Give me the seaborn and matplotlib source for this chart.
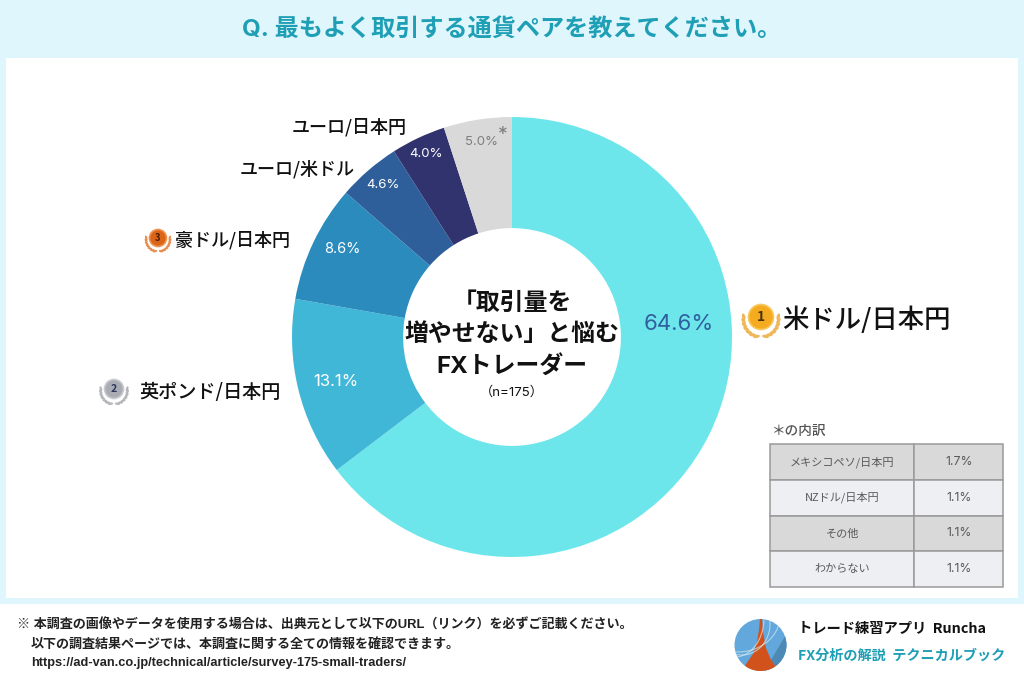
# survey donut chart - most traded currency pairs

import math
import matplotlib
matplotlib.use('Agg')
import matplotlib.pyplot as plt
from matplotlib.patches import Arc, Circle, Ellipse, Polygon, Rectangle
import seaborn as sns

# chart data
pairs = ['米ドル/日本円', '英ポンド/日本円', '豪ドル/日本円', 'ユーロ/米ドル', 'ユーロ/日本円', 'その他']
shares = [64.6, 13.1, 8.6, 4.6, 4.0, 5.0]
share_labels = ['64.6%', '13.1%', '8.6%', '4.6%', '4.0%', '5.0%']
pie_colors = ['#6ce6ea', '#40b7d7', '#2c8bbd', '#2e5f9b', '#31336f', '#d9d9d9']
label_colors = ['#2f5f9e', 'white', 'white', 'white', 'white', '#7f7f7f']

# breakdown of the * slice
detail_names = ['メキシコペソ/日本円', 'NZドル/日本円', 'その他', 'わからない']
detail_values = ['1.7%', '1.1%', '1.1%', '1.1%']

title_text = 'Q. 最もよく取引する通貨ペアを教えてください。'
center_lines = ['「取引量を', '増やせない」と悩む', 'FXトレーダー']
note_lines = ['※ 本調査の画像やデータを使用する場合は、出典元として以下のURL（リンク）を必ずご記載ください。',
              '以下の調査結果ページでは、本調査に関する全ての情報を確認できます。',
              'https://ad-van.co.jp/technical/article/survey-175-small-traders/']

sns.set_theme(style='white')
cjk = ['Noto Sans CJK JP', 'DejaVu Sans']
wide = ['Inter', 'Noto Sans CJK JP']
plt.rcParams['font.family'] = cjk

W, H = 1024, 683
fig = plt.figure(figsize=(W / 100, H / 100), dpi=100, facecolor='white')


def px_axes(x0, y0, x1, y1, **kw):
    # axes placed by pixel box, y counted from the top
    return fig.add_axes([x0 / W, 1 - y1 / H, (x1 - x0) / W, (y1 - y0) / H], **kw)


# background layer in pixel coordinates
bg = fig.add_axes([0, 0, 1, 1], zorder=0)
bg.set_xlim(0, W)
bg.set_ylim(H, 0)
bg.axis('off')
bg.add_patch(Rectangle((0, 0), W, 604, color='#dff7fc', lw=0))
bg.add_patch(Rectangle((6, 58), 1012, 540, color='white', lw=0))

# donut
ax = px_axes(292, 117, 732, 557, zorder=1)
ax.pie(shares, colors=pie_colors, startangle=90, counterclock=False,
       radius=1.0, wedgeprops={'width': 0.505, 'linewidth': 0})
ax.set_xlim(-1, 1)
ax.set_ylim(-1, 1)

# text and decoration layer
top = fig.add_axes([0, 0, 1, 1], zorder=2)
top.set_xlim(0, W)
top.set_ylim(H, 0)
top.axis('off')
top.patch.set_alpha(0)

top.text(512, 29, title_text, ha='center', va='center', fontsize=17.4,
         fontweight='bold', color='#1f9fb6', family=wide)

# percent labels on the ring
share_pos = [(679, 324), (336, 382), (342, 249), (383, 185), (426, 154), (481, 142)]
share_size = [16, 12, 10.5, 9.5, 9.5, 9.5]
for txt, (x, y), c, s in zip(share_labels, share_pos, label_colors, share_size):
    top.text(x, y, txt, ha='center', va='center', fontsize=s, color=c, family=wide)
top.text(503, 135, '*', ha='center', va='center', fontsize=14, color='#7f7f7f', family=wide)

# center of the donut
for line, y in zip(center_lines, [304, 335, 366]):
    top.text(512, y, line, ha='center', va='center', fontsize=17.2,
             fontweight='bold', color='#111111', family=wide)
top.text(512, 392, '（n=175）', ha='center', va='center', fontsize=9.5, color='#111111', family=wide)

# pair names
top.text(782, 320, pairs[0], ha='left', va='center', fontsize=19, fontweight='medium', color='#111111')
top.text(139, 392, pairs[1], ha='left', va='center', fontsize=13.8, fontweight='medium', color='#111111')
top.text(175, 240, pairs[2], ha='left', va='center', fontsize=13, fontweight='medium', color='#111111')
top.text(240, 169, pairs[3], ha='left', va='center', fontsize=13, fontweight='medium', color='#111111')
top.text(292, 127, pairs[4], ha='left', va='center', fontsize=13, fontweight='medium', color='#111111')


def draw_medal(x, y, r, face, edge, leaf, num, num_color):
    # round medal with a laurel wreath around its lower half
    y0 = y + 0.2 * r
    R = 1.4 * r
    for side in (-1, 1):
        for deg in range(15, 100, 14):
            a = math.radians(deg)
            lx = x + side * R * math.sin(a)
            ly = y0 + R * math.cos(a)
            tilt = math.degrees(math.atan2(-math.sin(a), side * math.cos(a)))
            top.add_patch(Ellipse((lx, ly), r * 0.55, r * 0.26, angle=tilt + side * 25, color=leaf, lw=0))
    top.add_patch(Circle((x, y), r, facecolor=face, edgecolor=edge, lw=1.2, zorder=3))
    top.text(x, y, num, ha='center', va='center', fontsize=r * 0.8, color=num_color,
             fontweight='bold', zorder=4)


draw_medal(761, 317, 12.5, '#f5ab20', '#f8c860', '#edb75a', '1', '#4a3410')
draw_medal(114, 389, 9.5, '#a9acb3', '#c8cacf', '#b4b6ba', '2', '#2b3560')
draw_medal(158, 238, 8.5, '#dc6416', '#ef9350', '#e88a4a', '3', '#4a1c05')

# breakdown table
top.text(772, 431, '＊の内訳', ha='left', va='center', fontsize=9.8, color='#555555', fontweight='medium')
tab_ax = px_axes(770, 444, 1003, 587, zorder=3)
tab_ax.axis('off')
rows = [[n, v] for n, v in zip(detail_names, detail_values)]
tab = tab_ax.table(cellText=rows, cellLoc='center', colWidths=[0.62, 0.38], bbox=[0, 0, 1, 1])
tab.auto_set_font_size(False)
for (r, c), cell in tab.get_celld().items():
    cell.set_facecolor('#d9d9d9' if r % 2 == 0 else '#edeff2')
    cell.set_edgecolor('#9a9a9a')
    cell.set_linewidth(1.1)
    cell.get_text().set_color('#595959')
    cell.get_text().set_fontsize(8 if c == 0 else 8.8)
    if c == 1:
        cell.get_text().set_family(wide)

# footnote
foot = ['Liberation Sans', 'Noto Sans CJK JP']
for line, x, y in zip(note_lines, [17, 31, 31], [625, 645, 663]):
    top.text(x, y, line, ha='left', va='center', fontsize=9.4 if line[0] != 'h' else 9.2,
             fontweight='bold', color='#222222', family=foot)

# logo
logo = Circle((760.5, 645), 26, transform=top.transData)
top.add_patch(Circle((760.5, 645), 26, facecolor='#62a8dc', lw=0))
shade = Polygon([(790, 628), (790, 675), (762, 675)], facecolor='#4c8ab5', lw=0)
top.add_patch(shade)
shade.set_clip_path(logo)
tower = Polygon([(760, 618), (762, 618), (763, 632), (766, 648), (771, 660), (780, 672),
                 (741, 672), (746, 664), (753, 654), (757, 642), (759, 630)],
                facecolor='#d2521c', lw=0)
top.add_patch(tower)
tower.set_clip_path(logo)
for cx, cy, w, h in [(742, 624, 56, 62), (735, 618, 58, 78), (738, 616, 84, 72)]:
    arc = Arc((cx, cy), w, h, theta1=-20, theta2=110, color='#d6e9ef', lw=0.8, alpha=0.7)
    top.add_patch(arc)
    arc.set_clip_path(logo)

top.text(798, 629, 'トレード練習アプリ  Runcha', ha='left', va='center', fontsize=10.3,
         fontweight='bold', color='#111111')
top.text(798, 656, 'FX分析の解説  テクニカルブック', ha='left', va='center', fontsize=10.2,
         fontweight='bold', color='#1f9fb6')

fig.savefig('out.png', dpi=100)
